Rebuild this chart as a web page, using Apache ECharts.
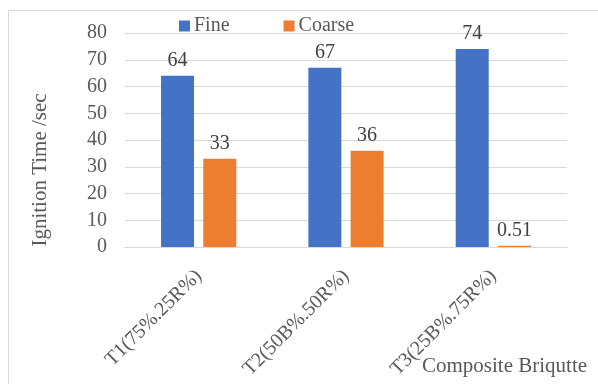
<!DOCTYPE html>
<html>
<head>
<meta charset="utf-8">
<script src="https://cdn.jsdelivr.net/npm/echarts@6/dist/echarts.min.js"></script>
<style>
  html, body { margin: 0; padding: 0; background: #fff; }
  #chart { width: 598px; height: 384px; }
</style>
</head>
<body>
<div id="chart"></div>
<script>
// Ignition time of composite briquettes, fine vs coarse particles
const categories = ['T1(75%.25R%)', 'T2(50B%.50R%)', 'T3(25B%.75R%)'];
const fineValues = [64, 67, 74];
const coarseValues = [33, 36, 0.51];
const seriesNames = ['Fine', 'Coarse'];
const yTicks = { min: 0, max: 80, interval: 10 };

const font = '"Liberation Serif", "Times New Roman", serif';
const chart = echarts.init(document.getElementById('chart'));

const labelStyle = {
  show: true,
  position: 'top',
  distance: 5,
  fontFamily: font,
  fontSize: 20,
  color: '#404040'
};

chart.setOption({
  animation: false,
  textStyle: { fontFamily: font },
  graphic: [
    {
      type: 'rect',
      shape: { x: 8.5, y: 10.5, width: 600, height: 380 },
      style: { fill: 'none', stroke: '#d9d9d9', lineWidth: 1 },
      silent: true
    },
    {
      // axis titles
      type: 'text',
      x: 40,
      y: 170,
      rotation: Math.PI / 2,
      style: {
        text: 'Ignition Time /sec',
        fontFamily: font,
        fontSize: 21,
        fill: '#595959',
        align: 'center',
        verticalAlign: 'middle'
      }
    },
    {
      type: 'text',
      left: 422,
      top: 356,
      style: {
        text: 'Composite Briqutte',
        fontFamily: font,
        fontSize: 21,
        fill: '#595959'
      }
    }
  ],
  legend: {
    data: seriesNames,
    left: 174,
    top: 11,
    itemWidth: 11,
    itemHeight: 11,
    itemGap: 54,
    icon: 'rect',
    textStyle: { fontFamily: font, fontSize: 20, color: '#595959', padding: [0, 0, 0, -1] }
  },
  grid: { left: 125, right: 31, top: 33, bottom: 137 },
  xAxis: {
    type: 'category',
    data: categories,
    axisLine: { lineStyle: { color: '#d9d9d9', width: 1 } },
    axisTick: { show: false },
    axisLabel: {
      rotate: 45,
      margin: 26,
      fontFamily: font,
      fontSize: 20,
      color: '#595959'
    }
  },
  yAxis: {
    type: 'value',
    min: yTicks.min,
    max: yTicks.max,
    interval: yTicks.interval,
    axisLine: { show: false },
    axisTick: { show: false },
    axisLabel: { margin: 18, fontFamily: font, fontSize: 20, color: '#595959' },
    splitLine: { lineStyle: { color: '#d9d9d9', width: 1 } }
  },
  series: [
    {
      name: seriesNames[0],
      type: 'bar',
      data: fineValues,
      barWidth: 33,
      barGap: '28%',
      itemStyle: { color: '#4472C4' },
      label: labelStyle
    },
    {
      name: seriesNames[1],
      type: 'bar',
      data: coarseValues,
      barWidth: 33,
      itemStyle: { color: '#ED7D31' },
      label: labelStyle
    }
  ]
});
</script>
</body>
</html>
